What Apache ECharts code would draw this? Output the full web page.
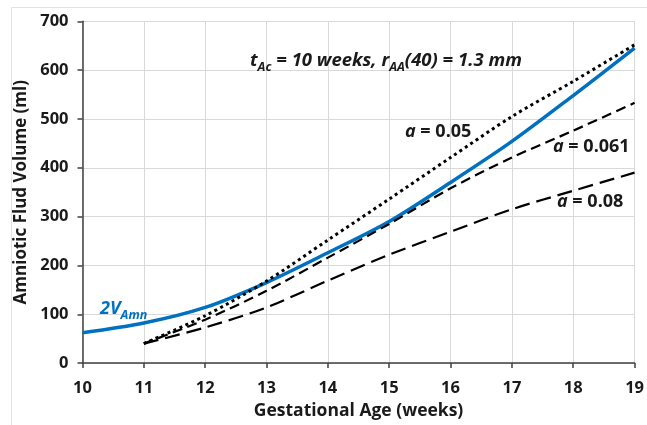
<!DOCTYPE html>
<html>
<head>
<meta charset="utf-8">
<script src="https://cdn.jsdelivr.net/npm/echarts@6/dist/echarts.min.js"></script>
<style>
html,body{margin:0;padding:0;background:#fff;}
#c{width:647px;height:425px;}
</style>
</head>
<body>
<div id="c"></div>
<script>
const weeks = [10, 11, 12, 13, 14, 15, 16, 17, 18, 19];
const vAmn2 = [62, 82, 114, 165, 226, 290, 370, 454, 548, 645];
const weeksModel = [11, 12, 13, 14, 15, 16, 17, 18, 19];
const a005 = [40, 97, 168, 252, 336, 421, 505, 577, 652];
const a0061 = [40, 89, 148, 216, 285, 358, 421, 476, 533];
const a008 = [40, 73, 114, 169, 222, 269, 315, 353, 390];
const xTicks = [10, 11, 12, 13, 14, 15, 16, 17, 18, 19];
const yTicks = [0, 100, 200, 300, 400, 500, 600, 700];

const pair = (xs, ys) => xs.map((x, i) => [x, ys[i]]);
const FF = '"Open Sans"';
const F = '"Open Sans", "Noto Sans", sans-serif';
const TXT = '#1a1a1a';

const mctx = document.createElement('canvas').getContext('2d');
function measure(t, size, italic) {
  mctx.font = (italic ? 'italic ' : '') + 'bold ' + size + 'px ' + FF;
  return mctx.measureText(t).width;
}
// segments: [text, size, italic, dy]
function textRun(x0, y, segs, color) {
  const out = [];
  let x = x0;
  segs.forEach(s => {
    const [t, size, italic, dy] = s;
    out.push({type: 'text', x: x, y: y + dy, silent: true, z: 100, style: {
      text: t, fontFamily: F, fontSize: size, fontWeight: 'bold',
      fontStyle: italic ? 'italic' : 'normal', fill: color,
      align: 'left', verticalAlign: 'middle'}});
    x += measure(t, size, italic);
  });
  return out;
}

const chart = echarts.init(document.getElementById('c'), null, {renderer: 'canvas'});
chart.setOption({
  animation: false,
  backgroundColor: '#fff',
  grid: {left: 82.5, right: 7.7, top: 21.3, bottom: 60.7, containLabel: false},
  xAxis: {
    type: 'value', min: xTicks[0], max: xTicks[xTicks.length - 1], interval: 1,
    name: 'Gestational Age (weeks)', nameLocation: 'middle', nameGap: 37,
    nameTextStyle: {fontFamily: F, fontWeight: 'bold', fontSize: 17.5, color: TXT},
    axisLine: {show: true, lineStyle: {color: '#404040', width: 1.5}},
    axisTick: {show: true, length: 5, lineStyle: {color: '#404040', width: 1.5}},
    axisLabel: {fontFamily: F, fontWeight: 'bold', fontSize: 16.5, color: TXT, margin: 17},
    splitLine: {show: true, lineStyle: {color: '#d9d9d9', width: 1}}
  },
  yAxis: {
    type: 'value', min: yTicks[0], max: yTicks[yTicks.length - 1], interval: 100,
    name: 'Amniotic Flud Volume (ml)', nameLocation: 'middle', nameGap: 49,
    nameTextStyle: {fontFamily: F, fontWeight: 'bold', fontSize: 17, color: TXT},
    axisLine: {show: true, lineStyle: {color: '#404040', width: 1.5}},
    axisTick: {show: true, length: 5, lineStyle: {color: '#404040', width: 1.5}},
    axisLabel: {fontFamily: F, fontWeight: 'bold', fontSize: 16.5, color: TXT, margin: 14},
    splitLine: {show: true, lineStyle: {color: '#d9d9d9', width: 1}}
  },
  series: [
    {type: 'line', name: '2VAmn', data: pair(weeks, vAmn2), smooth: 0.3, symbol: 'none',
     lineStyle: {color: '#0070C0', width: 3.5}},
    {type: 'line', name: 'a = 0.05', data: pair(weeksModel, a005), smooth: 0.3, symbol: 'none',
     lineStyle: {color: '#000', width: 3, type: [3, 3.5]}},
    {type: 'line', name: 'a = 0.061', data: pair(weeksModel, a0061), smooth: 0.3, symbol: 'none',
     lineStyle: {color: '#000', width: 2.2, type: [10, 5.5]}},
    {type: 'line', name: 'a = 0.08', data: pair(weeksModel, a008), smooth: 0.3, symbol: 'none',
     lineStyle: {color: '#000', width: 2.2, type: [15, 7]}}
  ],
  graphic: [
    {type: 'rect', left: 9, top: 5, shape: {width: 660, height: 440},
     style: {fill: 'none', stroke: '#e3e3e3', lineWidth: 1}, silent: true}
  ].concat(
    textRun(250, 60.5, [
      ['t', 18.5, true, 0], ['Ac', 12.5, true, 7], [' = 10 weeks, r', 18.5, true, 0],
      ['AA', 12.5, true, 7], ['(40) = 1.3 mm', 18.5, true, 0]], TXT),
    textRun(405, 132, [['a', 18, true, 0], [' = 0.05', 18, false, 0]], TXT),
    textRun(553, 147, [['a', 18, true, 0], [' = 0.061', 18, false, 0]], TXT),
    textRun(557, 202, [['a', 18, true, 0], [' = 0.08', 18, false, 0]], TXT),
    textRun(100, 308.7, [['2V', 18, true, 0], ['Amn', 12.5, true, 7]], '#0070C0')
  )
});
</script>
</body>
</html>
